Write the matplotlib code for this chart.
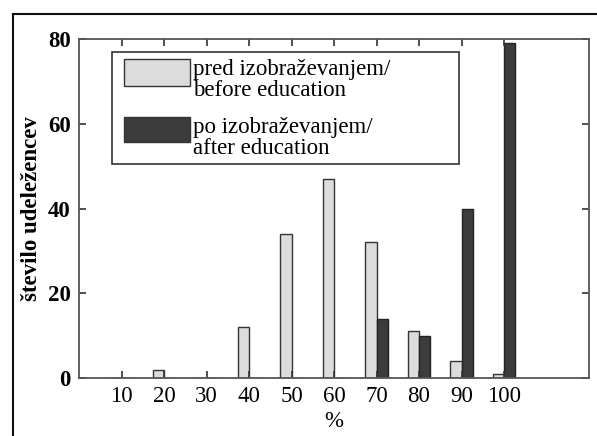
import matplotlib
matplotlib.use("Agg")
import matplotlib.pyplot as plt
from matplotlib.lines import Line2D
from matplotlib.patches import Rectangle
import numpy as np

categories = ["10", "20", "30", "40", "50", "60", "70", "80", "90", "100"]
before = [0, 2, 0, 12, 34, 47, 32, 11, 4, 1]
after = [0, 0, 0, 0, 0, 0, 14, 10, 40, 79]
label_before = ["pred izobraževanjem/", "before education"]
label_after = ["po izobraževanjem/", "after education"]
yticks = [0, 20, 40, 60, 80]

plt.rcParams['font.family'] = ['Liberation Serif', 'DejaVu Serif']
plt.rcParams['font.size'] = 16.5

W, H = 597, 436
fig = plt.figure(figsize=(W/100, H/100), dpi=100)
ax = fig.add_axes([79/W, 1-378/H, (589-79)/W, (378-39)/H])

light = '#dcdcdc'
dark = '#3c3c3c'
x = np.arange(1, len(categories) + 1)
w = 0.27
ax.bar(x, before, width=-w, align='edge', color=light, edgecolor='#333333', linewidth=1.0)
ax.bar(x, after, width=w, align='edge', color=dark, edgecolor='#222222', linewidth=1.0)

ax.set_xlim(0, 12)
ax.set_ylim(0, 80)
ax.set_xticks(x)
ax.set_xticklabels(categories)
ax.set_yticks(yticks)
ax.set_yticklabels([str(v) for v in yticks], fontweight='bold')
ax.tick_params(direction='in', length=5, width=1.2, color='#333333',
               top=True, right=True, pad=6)
for s in ax.spines.values():
    s.set_color('#555555')
    s.set_linewidth(1.3)

ax.set_xlabel('%', labelpad=2.5)
ax.set_ylabel('število udeležencev', fontweight='bold', labelpad=4)

def fx(px):
    return px / W

def fy(py):
    return 1 - py / H

# manual legend (pixel layout of the reference)
fig.add_artist(Rectangle((fx(112), fy(164)), fx(459) - fx(112), fy(52) - fy(164),
                         transform=fig.transFigure, facecolor='white',
                         edgecolor='#222222', linewidth=1.1, zorder=5))
for (y0, y1), col, lines in [((59, 86), light, label_before), ((117, 142), dark, label_after)]:
    fig.add_artist(Rectangle((fx(124), fy(y1)), fx(190) - fx(124), fy(y0) - fy(y1),
                             transform=fig.transFigure, facecolor=col,
                             edgecolor='#333333', linewidth=1.0, zorder=6))
    base1 = y0 + 15.5
    for i, line in enumerate(lines):
        fig.text(fx(193), fy(base1 + 21 * i), line, ha='left', va='baseline', zorder=7)

# outer frame lines
fig.add_artist(Line2D([fx(13), fx(13)], [0, fy(14)], transform=fig.transFigure,
                      color='#111111', linewidth=1.5))
fig.add_artist(Line2D([fx(13), 1], [fy(14), fy(14)], transform=fig.transFigure,
                      color='#111111', linewidth=1.5))

fig.savefig('out.png', dpi=100)
